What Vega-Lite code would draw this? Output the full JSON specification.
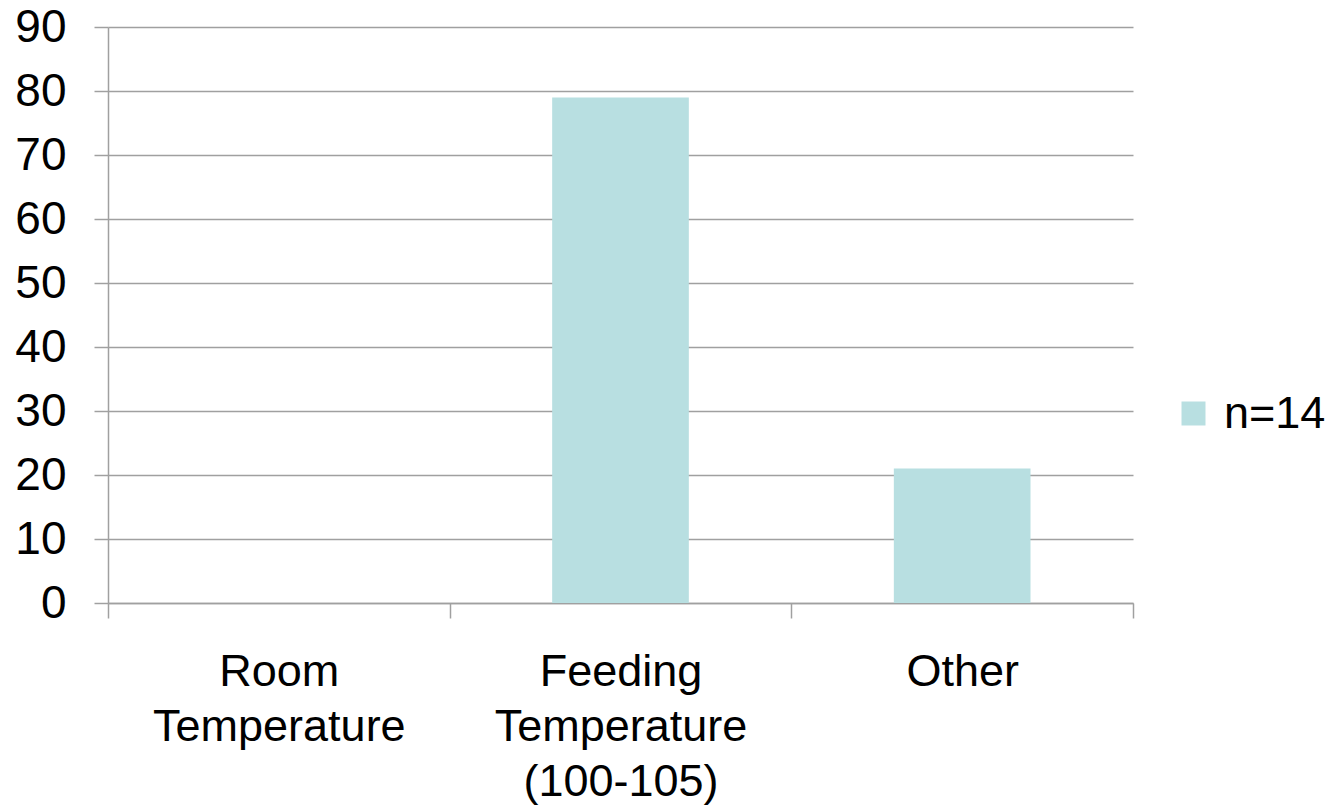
{
  "$schema": "https://vega.github.io/schema/vega-lite/v6.json",
  "width": 1025,
  "height": 576,
  "autosize": {"type": "none"},
  "padding": {"left": 108, "top": 27, "right": 195, "bottom": 205},
  "background": "white",
  "config": {
    "font": "Liberation Sans",
    "view": {"stroke": null}
  },
  "data": {
    "values": [
      {"category": "Room\nTemperature", "value": 0, "series": "n=14"},
      {"category": "Feeding\nTemperature\n(100-105)", "value": 79, "series": "n=14"},
      {"category": "Other", "value": 21, "series": "n=14"}
    ]
  },
  "mark": {"type": "bar", "width": {"band": 0.4}},
  "encoding": {
    "x": {
      "field": "category",
      "type": "nominal",
      "sort": null,
      "scale": {"paddingInner": 0, "paddingOuter": 0},
      "axis": {
        "title": null,
        "labelAngle": 0,
        "labelExpr": "split(datum.label, '\\n')",
        "labelFontSize": 45,
        "labelLineHeight": 55,
        "labelLimit": 500,
        "labelColor": "#000000",
        "labelPadding": 31,
        "labelBaseline": "top",
        "tickBand": "extent",
        "tickSize": 15,
        "tickColor": "#a0a0a0",
        "tickWidth": 1.5,
        "domainColor": "#a0a0a0",
        "domainWidth": 1.5,
        "grid": false
      }
    },
    "y": {
      "field": "value",
      "type": "quantitative",
      "scale": {"domain": [0, 90]},
      "axis": {
        "title": null,
        "values": [0, 10, 20, 30, 40, 50, 60, 70, 80, 90],
        "labelFontSize": 46,
        "labelColor": "#000000",
        "labelPadding": 28,
        "tickSize": 14,
        "tickColor": "#a0a0a0",
        "tickWidth": 1.5,
        "domainColor": "#a0a0a0",
        "domainWidth": 1.5,
        "grid": true,
        "gridColor": "#a0a0a0",
        "gridWidth": 1.5
      }
    },
    "color": {
      "field": "series",
      "type": "nominal",
      "scale": {"range": ["#b8dfe1"]},
      "legend": {
        "title": null,
        "orient": "none",
        "legendX": 1063,
        "legendY": 364,
        "symbolType": "square",
        "symbolSize": 576,
        "symbolStrokeWidth": 0,
        "labelFontSize": 45,
        "labelLimit": 300,
        "labelColor": "#000000",
        "labelOffset": 8
      }
    }
  }
}
